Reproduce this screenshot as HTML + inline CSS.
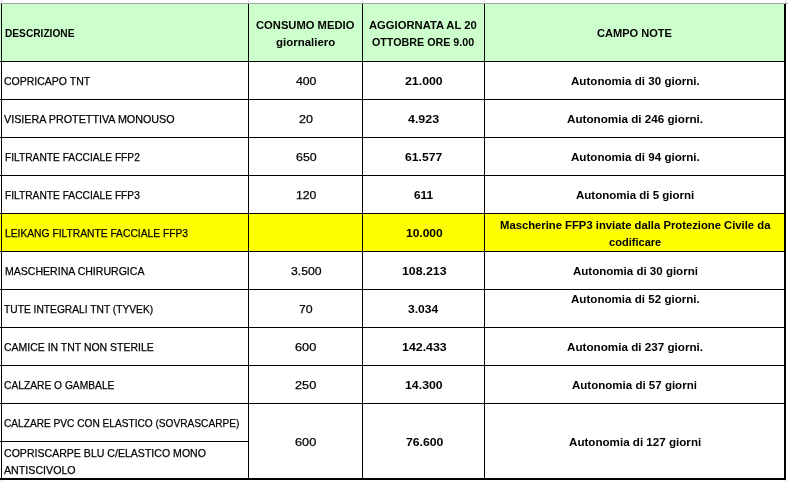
<!DOCTYPE html>
<html lang="it"><head><meta charset="utf-8"><title>Tabella DPI</title>
<style>
html,body{margin:0;padding:0;background:#fff}
#sheet{position:relative;width:789px;height:482px;background:#fff;overflow:hidden;font-family:"Liberation Sans",sans-serif;color:#000}
.bg{position:absolute}
.ln{position:absolute;background:#000}
.t{position:absolute;white-space:pre;font-size:11.5px;line-height:14px;height:14px;transform-origin:0 0;display:block}
.t{-webkit-text-stroke:0.25px #000}
.b{font-weight:bold;-webkit-text-stroke:0}
</style></head><body>
<div id="sheet">
<div class="bg" style="left:0;top:4px;width:784px;height:57px;background:#ccffcc"></div>
<div class="bg" style="left:0;top:214px;width:784px;height:37px;background:#ffff00"></div>
<div class="ln" style="left:0;top:61px;width:785px;height:1px"></div>
<div class="ln" style="left:0;top:99px;width:785px;height:1px"></div>
<div class="ln" style="left:0;top:137px;width:785px;height:1px"></div>
<div class="ln" style="left:0;top:175px;width:785px;height:1px"></div>
<div class="ln" style="left:0;top:213px;width:785px;height:1px"></div>
<div class="ln" style="left:0;top:251px;width:785px;height:1px"></div>
<div class="ln" style="left:0;top:289px;width:785px;height:1px"></div>
<div class="ln" style="left:0;top:327px;width:785px;height:1px"></div>
<div class="ln" style="left:0;top:365px;width:785px;height:1px"></div>
<div class="ln" style="left:0;top:403px;width:785px;height:1px"></div>
<div class="ln" style="left:0;top:441px;width:249px;height:1px"></div>
<div class="ln" style="left:0;top:478px;width:786px;height:2px"></div>
<div class="ln" style="left:1px;top:4px;width:1px;height:475px"></div>
<div class="ln" style="left:248px;top:4px;width:1px;height:475px"></div>
<div class="ln" style="left:362px;top:4px;width:1px;height:475px"></div>
<div class="ln" style="left:484px;top:4px;width:1px;height:475px"></div>
<div class="ln" style="left:784px;top:4px;width:2px;height:476px"></div>
<div style="position:absolute;left:0;top:3px;width:788px;height:1px;background:#a3a3a3"></div>
<div style="position:absolute;left:1px;top:0;width:1px;height:3px;background:#dcd0dc"></div>
<div style="position:absolute;left:248px;top:0;width:1px;height:3px;background:#dcd0dc"></div>
<div style="position:absolute;left:362px;top:0;width:1px;height:3px;background:#dcd0dc"></div>
<div style="position:absolute;left:484px;top:0;width:1px;height:3px;background:#dcd0dc"></div>
<div style="position:absolute;left:785px;top:0;width:1px;height:3px;background:#dcd0dc"></div>
<div style="position:absolute;left:1px;top:480px;width:1px;height:2px;background:#d8d8d8"></div>
<div style="position:absolute;left:785px;top:480px;width:1px;height:2px;background:#d8d8d8"></div>
<span class="t b" style="left:4.50px;top:26.0px;transform:scaleX(0.8832)">DESCRIZIONE</span>
<span class="t b" style="left:256.30px;top:18.0px;transform:scaleX(0.9743)">CONSUMO MEDIO</span>
<span class="t b" style="left:276.10px;top:35.0px;transform:scaleX(0.9966)">giornaliero</span>
<span class="t b" style="left:369.10px;top:18.0px;transform:scaleX(0.9767)">AGGIORNATA AL 20</span>
<span class="t b" style="left:372.30px;top:35.0px;transform:scaleX(0.9313)">OTTOBRE ORE 9.00</span>
<span class="t b" style="left:596.90px;top:26.0px;transform:scaleX(0.9620)">CAMPO NOTE</span>
<span class="t" style="left:4.40px;top:74.0px;transform:scaleX(0.9129)">COPRICAPO TNT</span>
<span class="t" style="left:3.70px;top:112.0px;transform:scaleX(0.9349)">VISIERA PROTETTIVA MONOUSO</span>
<span class="t" style="left:4.90px;top:150.0px;transform:scaleX(0.8879)">FILTRANTE FACCIALE FFP2</span>
<span class="t" style="left:4.90px;top:188.0px;transform:scaleX(0.8879)">FILTRANTE FACCIALE FFP3</span>
<span class="t" style="left:4.60px;top:226.0px;transform:scaleX(0.8933)">LEIKANG FILTRANTE FACCIALE FFP3</span>
<span class="t" style="left:4.90px;top:264.0px;transform:scaleX(0.9168)">MASCHERINA CHIRURGICA</span>
<span class="t" style="left:4.10px;top:302.0px;transform:scaleX(0.8900)">TUTE INTEGRALI TNT (TYVEK)</span>
<span class="t" style="left:4.40px;top:340.0px;transform:scaleX(0.9105)">CAMICE IN TNT NON STERILE</span>
<span class="t" style="left:4.20px;top:378.0px;transform:scaleX(0.8905)">CALZARE O GAMBALE</span>
<span class="t" style="left:4.20px;top:416.0px;transform:scaleX(0.8811)">CALZARE PVC CON ELASTICO (SOVRASCARPE)</span>
<span class="t" style="left:4.20px;top:446.0px;transform:scaleX(0.9187)">COPRISCARPE BLU C/ELASTICO MONO</span>
<span class="t" style="left:3.90px;top:463.0px;transform:scaleX(0.9266)">ANTISCIVOLO</span>
<span class="t" style="left:295.80px;top:74.0px;transform:scaleX(1.0643)">400</span>
<span class="t" style="left:298.80px;top:112.0px;transform:scaleX(1.0891)">20</span>
<span class="t" style="left:295.60px;top:150.0px;transform:scaleX(1.0803)">650</span>
<span class="t" style="left:296.00px;top:188.0px;transform:scaleX(1.0590)">120</span>
<span class="t" style="left:290.60px;top:264.0px;transform:scaleX(1.0640)">3.500</span>
<span class="t" style="left:298.80px;top:302.0px;transform:scaleX(1.0729)">70</span>
<span class="t" style="left:295.40px;top:340.0px;transform:scaleX(1.1069)">600</span>
<span class="t" style="left:295.40px;top:378.0px;transform:scaleX(1.1069)">250</span>
<span class="t" style="left:295.40px;top:435.0px;transform:scaleX(1.1069)">600</span>
<span class="t b" style="left:405.40px;top:74.0px;transform:scaleX(1.0725)">21.000</span>
<span class="t b" style="left:408.20px;top:112.0px;transform:scaleX(1.0817)">4.923</span>
<span class="t b" style="left:405.40px;top:150.0px;transform:scaleX(1.0581)">61.577</span>
<span class="t b" style="left:413.60px;top:188.0px;transform:scaleX(1.0336)">611</span>
<span class="t b" style="left:406.00px;top:226.0px;transform:scaleX(1.0438)">10.000</span>
<span class="t b" style="left:401.60px;top:264.0px;transform:scaleX(1.0711)">108.213</span>
<span class="t b" style="left:408.20px;top:302.0px;transform:scaleX(1.0448)">3.034</span>
<span class="t b" style="left:401.60px;top:340.0px;transform:scaleX(1.0759)">142.433</span>
<span class="t b" style="left:405.40px;top:378.0px;transform:scaleX(1.0725)">14.300</span>
<span class="t b" style="left:405.70px;top:435.0px;transform:scaleX(1.0639)">76.600</span>
<span class="t b" style="left:570.90px;top:74.0px;transform:scaleX(1.0080)">Autonomia di 30 giorni.</span>
<span class="t b" style="left:566.80px;top:112.0px;transform:scaleX(1.0143)">Autonomia di 246 giorni.</span>
<span class="t b" style="left:570.90px;top:150.0px;transform:scaleX(1.0080)">Autonomia di 94 giorni.</span>
<span class="t b" style="left:576.00px;top:188.0px;transform:scaleX(1.0000)">Autonomia di 5 giorni</span>
<span class="t b" style="left:499.50px;top:218.0px;transform:scaleX(0.9794)">Mascherine FFP3 inviate dalla Protezione Civile da</span>
<span class="t b" style="left:609.40px;top:235.0px;transform:scaleX(0.9623)">codificare</span>
<span class="t b" style="left:573.00px;top:264.0px;transform:scaleX(1.0025)">Autonomia di 30 giorni</span>
<span class="t b" style="left:570.90px;top:292.0px;transform:scaleX(1.0080)">Autonomia di 52 giorni.</span>
<span class="t b" style="left:566.80px;top:340.0px;transform:scaleX(1.0143)">Autonomia di 237 giorni.</span>
<span class="t b" style="left:572.30px;top:378.0px;transform:scaleX(1.0025)">Autonomia di 57 giorni</span>
<span class="t b" style="left:568.90px;top:435.0px;transform:scaleX(1.0093)">Autonomia di 127 giorni</span>
</div>
</body></html>
